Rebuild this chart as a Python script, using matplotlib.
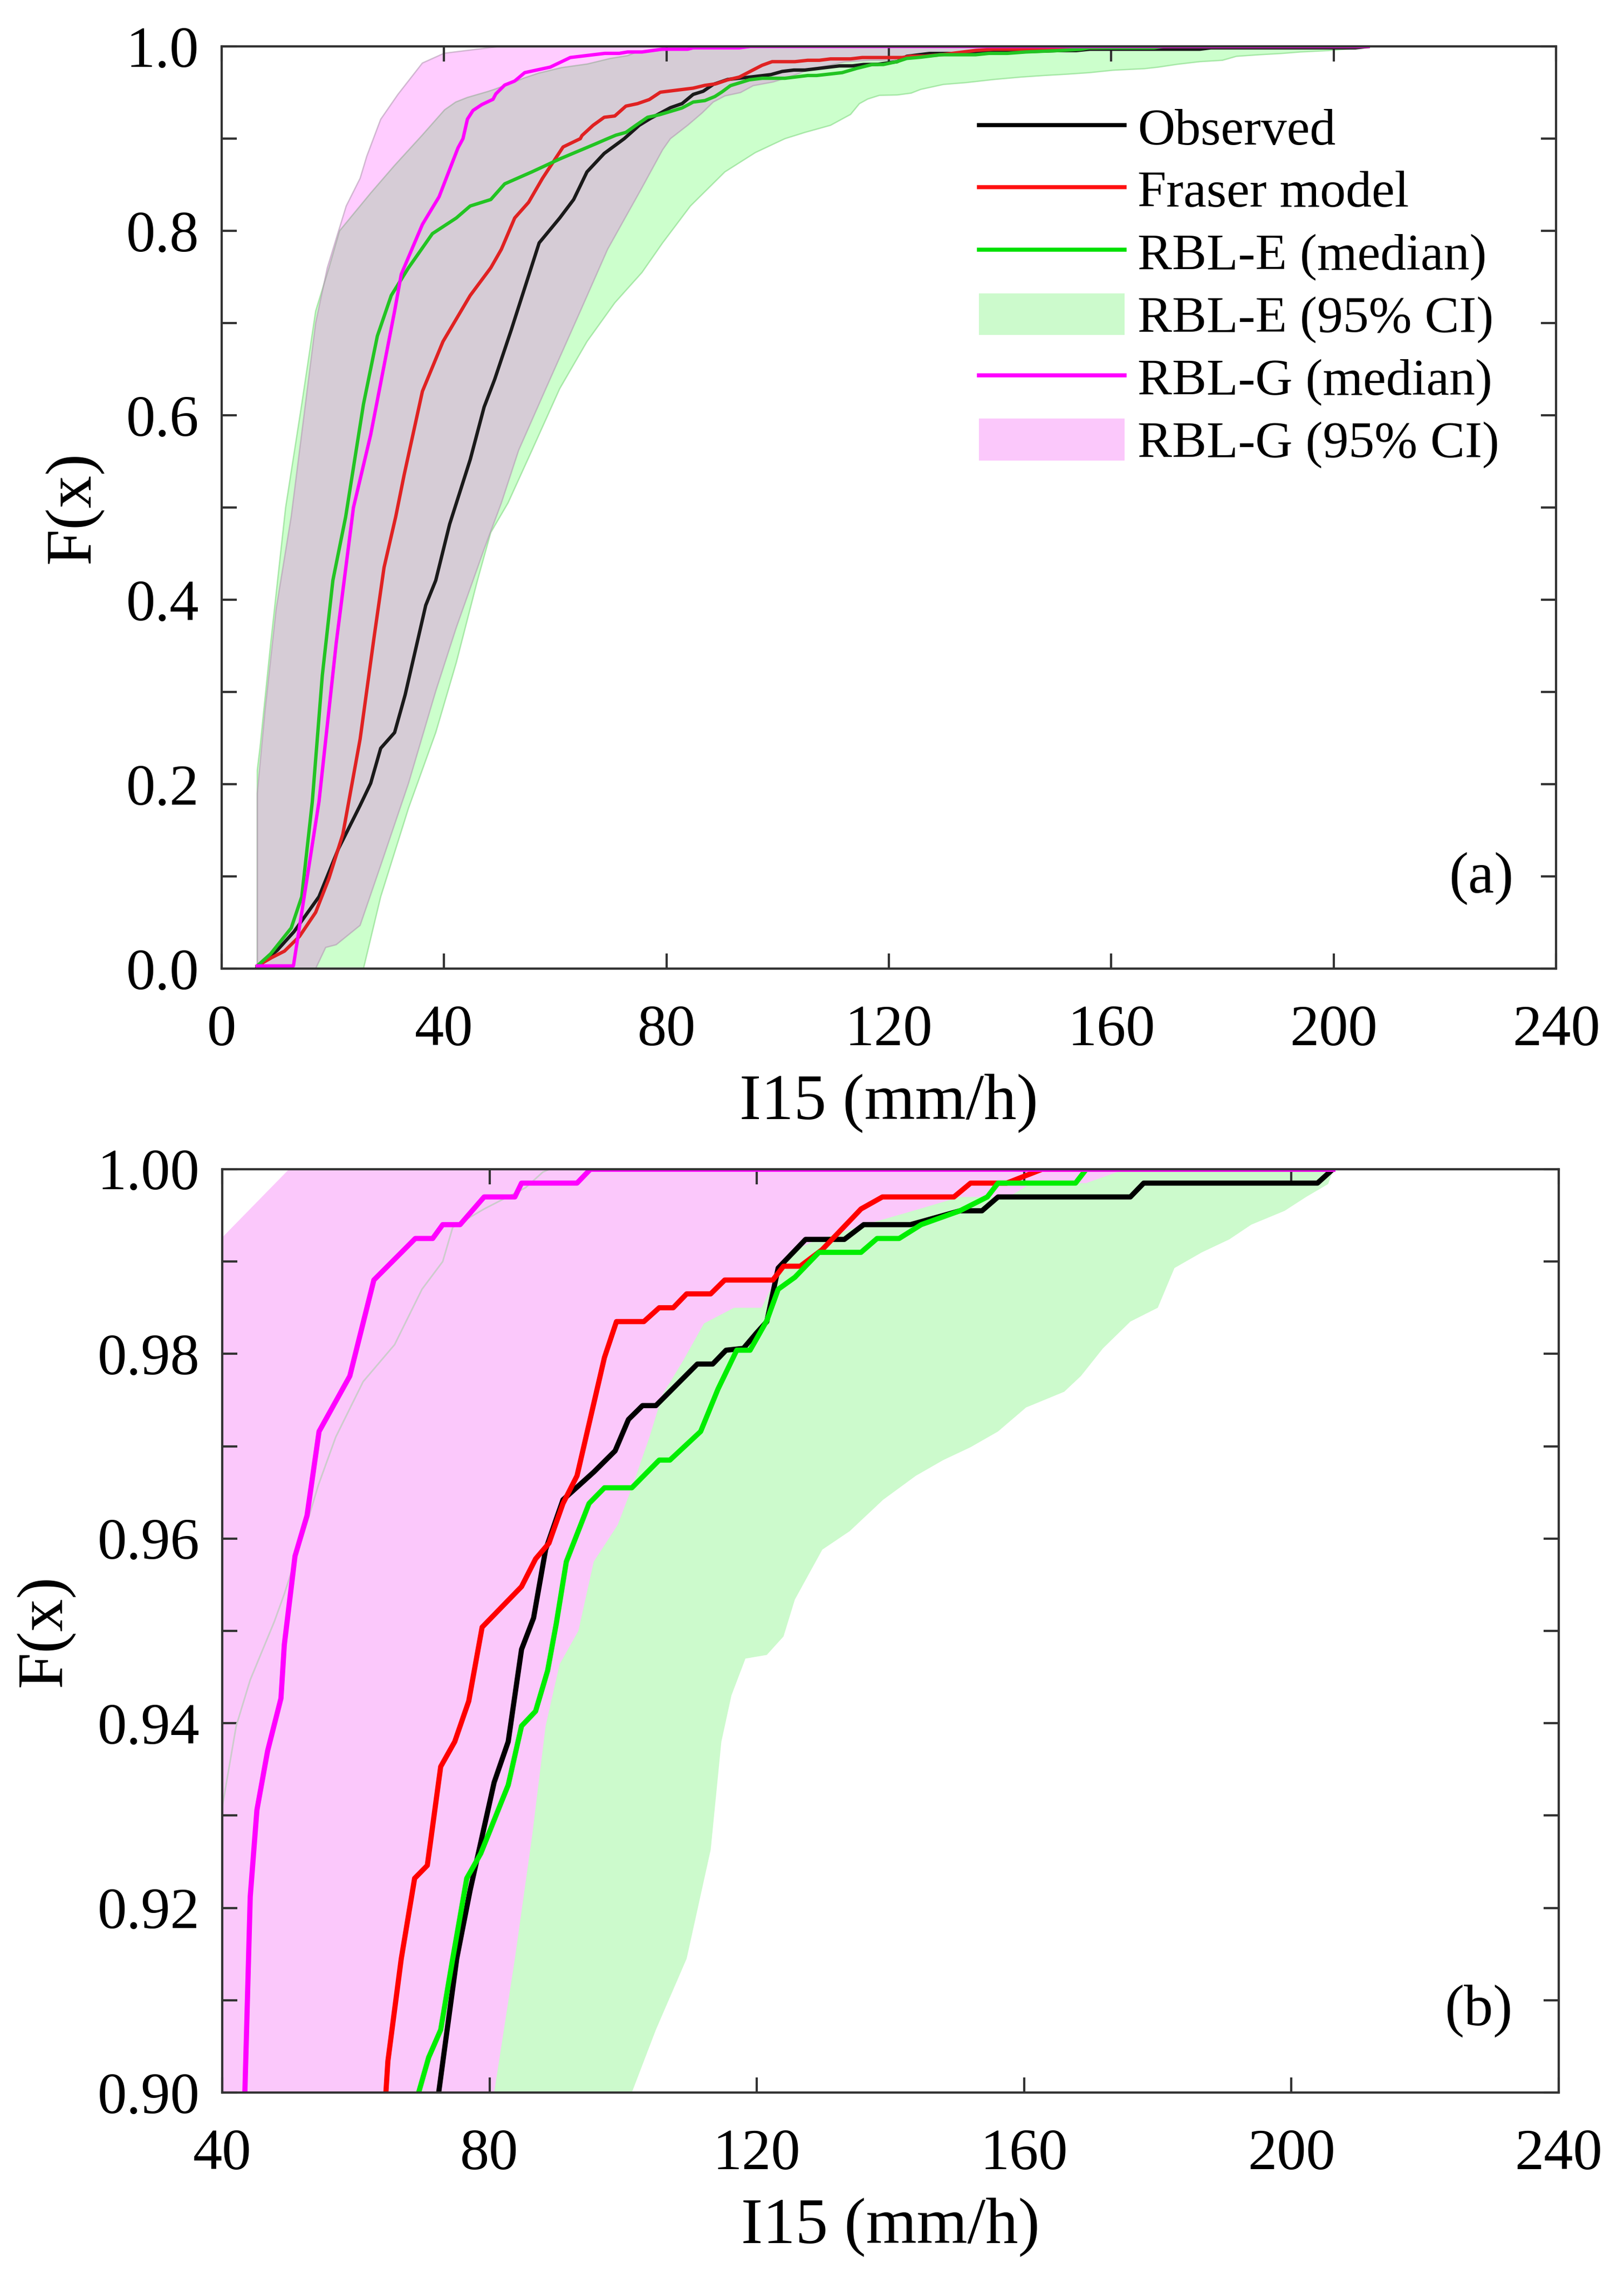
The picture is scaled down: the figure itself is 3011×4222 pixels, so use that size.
import numpy as np
import matplotlib
matplotlib.use('Agg')
import matplotlib.pyplot as plt
from matplotlib.lines import Line2D
from matplotlib.patches import Patch

plt.rcParams['font.family'] = ['Liberation Serif', 'DejaVu Serif']

# (I15, F) points
observed = [(6.4, 0.0015), (10.0, 0.02), (13.0, 0.04), (17.5, 0.078), (21.0, 0.13), (24.9, 0.177),
            (26.8, 0.201), (28.6, 0.239), (31.1, 0.256), (33.0, 0.297), (36.7, 0.394), (38.5, 0.421),
            (41.0, 0.482), (44.7, 0.552), (47.2, 0.609), (49.1, 0.639), (52.1, 0.693), (57.1, 0.787),
            (60.8, 0.814), (63.3, 0.834), (65.7, 0.864), (68.8, 0.884), (72.4, 0.900), (75.1, 0.9145),
            (77.1, 0.9219), (80.7, 0.9336), (82.8, 0.938), (84.8, 0.948), (86.6, 0.9514), (88.4, 0.9588),
            (91.0, 0.9642), (95.6, 0.9672), (98.8, 0.9695), (100.8, 0.9729), (102.9, 0.9744), (104.9, 0.9744),
            (111.1, 0.9789), (113.4, 0.9789), (115.4, 0.9804), (118.0, 0.9806), (120.0, 0.9823),
            (121.5, 0.9835), (123.2, 0.9893), (127.3, 0.9924), (133.1, 0.9924), (136.0, 0.994),
            (143.0, 0.994), (150.4, 0.9955), (153.7, 0.9955), (156.1, 0.997), (175.9, 0.997),
            (177.9, 0.9985), (203.9, 0.9985), (206.2, 1.0)]

fraser = [(6.4, 0.003), (9.0, 0.012), (11.3, 0.019), (14.0, 0.035), (16.9, 0.061), (19.3, 0.098),
          (21.8, 0.146), (24.9, 0.249), (27.4, 0.359), (29.2, 0.435), (31.3, 0.49), (32.8, 0.535),
          (36.1, 0.626), (39.8, 0.68), (44.7, 0.73), (48.4, 0.76), (50.3, 0.78), (52.7, 0.814),
          (55.2, 0.831), (57.7, 0.857), (61.4, 0.891), (64.5, 0.900), (64.8, 0.9034), (66.8, 0.9145),
          (68.8, 0.9232), (70.7, 0.9246), (72.7, 0.9353), (74.8, 0.938), (76.9, 0.9424), (78.9, 0.9504),
          (84.8, 0.9548), (86.9, 0.9578), (88.9, 0.9595), (91.0, 0.9638), (93.1, 0.9668), (97.2, 0.9796),
          (99.0, 0.9835), (103.1, 0.9835), (105.4, 0.985), (107.5, 0.985), (109.5, 0.9865),
          (113.1, 0.9865), (115.2, 0.988), (122.4, 0.988), (124.0, 0.9895), (126.5, 0.9895),
          (129.8, 0.9913), (135.6, 0.9957), (138.8, 0.997), (149.5, 0.997), (152.0, 0.9985),
          (157.4, 0.9985), (162.7, 1.0), (206.2, 1.0)]

rble_median = [(6.4, 0.003), (8.8, 0.016), (12.5, 0.044), (14.4, 0.078), (16.3, 0.181), (18.1, 0.318),
               (20.0, 0.421), (22.3, 0.49), (25.5, 0.612), (28.0, 0.686), (30.5, 0.730), (33.6, 0.760),
               (37.9, 0.797), (42.2, 0.814), (44.7, 0.827), (48.4, 0.834), (50.9, 0.851), (55.8, 0.864),
               (60.8, 0.878), (67.1, 0.894), (69.4, 0.900), (70.9, 0.9038), (72.7, 0.9068), (74.5, 0.9145),
               (76.6, 0.9232), (78.7, 0.9259), (82.8, 0.9333), (84.8, 0.9397), (86.9, 0.9413),
               (88.7, 0.9457), (90.0, 0.9508), (91.5, 0.9575), (94.9, 0.9638), (97.2, 0.9655),
               (101.3, 0.9655), (105.4, 0.9685), (107.0, 0.9685), (111.6, 0.9716), (114.2, 0.9762),
               (117.0, 0.9804), (119.0, 0.9804), (121.5, 0.9836), (123.2, 0.987), (125.7, 0.9883),
               (129.3, 0.991), (135.6, 0.991), (138.0, 0.9925), (141.3, 0.9925), (144.6, 0.994),
               (150.4, 0.9955), (154.5, 0.997), (156.1, 0.9985), (167.7, 0.9985), (169.3, 1.0), (206.2, 1.0)]

rblg_median = [(6.4, 0.003), (12.9, 0.003), (17.5, 0.181), (20.6, 0.353), (23.7, 0.50), (26.8, 0.579),
               (31.1, 0.713), (32.3, 0.753), (36.1, 0.807), (39.1, 0.837), (42.5, 0.890), (43.4, 0.900),
               (44.2, 0.9212), (45.2, 0.9306), (46.8, 0.937), (48.8, 0.9427), (49.3, 0.9485),
               (50.9, 0.9581), (52.7, 0.9625), (54.5, 0.9716), (59.1, 0.9776), (62.7, 0.988),
               (68.9, 0.9925), (71.5, 0.9925), (73.0, 0.994), (75.6, 0.994), (79.2, 0.997), (83.8, 0.997),
               (84.8, 0.9985), (93.1, 0.9985), (95.1, 1.0), (206.2, 1.0)]

rble_ci_upper = [(6.4, 0.215), (6.9, 0.24), (8.8, 0.352), (11.5, 0.50), (14.4, 0.612), (16.9, 0.713),
                 (19.3, 0.76), (21.2, 0.80), (26.8, 0.841), (31.1, 0.871), (36.1, 0.904), (40.1, 0.9313),
                 (42.1, 0.9397), (44.2, 0.9447), (47.8, 0.951), (49.3, 0.954), (52.4, 0.961),
                 (54.4, 0.9658), (57.0, 0.971), (61.1, 0.977), (65.8, 0.981), (69.9, 0.987), (73.0, 0.990),
                 (74.5, 0.9937), (79.2, 0.9957), (85.4, 0.998), (88.0, 0.9997), (89.0, 1.0), (206.2, 1.0)]

rble_ci_lower = [(6.4, 0.0), (25.5, 0.0), (28.6, 0.078), (33.6, 0.174), (38.5, 0.256), (42.2, 0.332),
                 (46.0, 0.421), (48.4, 0.473), (51.5, 0.505), (55.8, 0.562), (60.8, 0.629), (65.7, 0.680),
                 (70.7, 0.722), (75.6, 0.755), (79.3, 0.787), (84.3, 0.827), (90.5, 0.864), (96.0, 0.885),
                 (101.3, 0.900), (104.9, 0.9068), (109.5, 0.9145), (113.1, 0.9263), (114.7, 0.938),
                 (116.2, 0.943), (118.3, 0.947), (121.5, 0.9474), (124.0, 0.9494), (125.7, 0.9534),
                 (129.8, 0.9588), (133.9, 0.9608), (138.9, 0.9642), (143.8, 0.9668), (147.9, 0.9685),
                 (152.0, 0.9699), (156.1, 0.9716), (160.3, 0.9742), (166.0, 0.9759), (168.5, 0.9776),
                 (171.8, 0.9806), (175.9, 0.9835), (180.0, 0.985), (182.5, 0.9893), (186.6, 0.991),
                 (190.7, 0.9924), (194.0, 0.994), (199.0, 0.9955), (202.2, 0.997), (205.5, 0.9984),
                 (206.3, 1.0)]

rblg_ci_upper = [(6.4, 0.19), (7.8, 0.28), (9.8, 0.39), (12.5, 0.49), (14.6, 0.59), (16.9, 0.70),
                 (19.0, 0.76), (22.4, 0.827), (24.9, 0.857), (26.1, 0.881), (28.6, 0.921), (31.7, 0.948),
                 (36.1, 0.982), (40.0, 0.9926), (50.0, 1.0), (206.2, 1.0)]

rblg_ci_lower = [(6.4, 0.0), (16.9, 0.0), (18.7, 0.023), (20.6, 0.026), (24.9, 0.047), (28.6, 0.112),
                 (33.6, 0.201), (38.5, 0.301), (42.2, 0.37), (47.2, 0.455), (50.3, 0.505), (53.4, 0.562),
                 (58.3, 0.629), (64.5, 0.713), (69.4, 0.78), (75.6, 0.847), (79.3, 0.888), (80.7, 0.900),
                 (83.8, 0.9145), (86.4, 0.9279), (88.4, 0.9397), (90.5, 0.9464), (93.3, 0.950),
                 (95.6, 0.9575), (99.2, 0.9615), (101.3, 0.9655), (103.9, 0.9709), (105.9, 0.9756),
                 (109.0, 0.9793), (112.1, 0.9833), (116.6, 0.985), (120.7, 0.985), (124.8, 0.991),
                 (128.9, 0.9923), (136.2, 0.994), (143.4, 0.9955), (150.4, 0.997), (157.7, 0.997),
                 (161.1, 0.9985), (169.3, 0.9985), (175.1, 1.0), (206.2, 1.0)]

labels = ['Observed', 'Fraser model', 'RBL-E (median)', 'RBL-E (95% CI)', 'RBL-G (median)', 'RBL-G (95% CI)']


def xy(pts):
    a = np.array(pts)
    return a[:, 0], a[:, 1]


def band(ax, upper, lower, **kw):
    xu, fu = xy(upper)
    xl, fl = xy(lower)
    ax.fill(np.concatenate([xu, xl[::-1]]), np.concatenate([fu, fl[::-1]]), **kw)


def style_axes(ax, xticks, yticks, fmt):
    ax.set_xticks(xticks)
    ax.set_yticks(yticks)
    ax.set_yticklabels([fmt.format(v) if i % 2 == 0 else '' for i, v in enumerate(yticks)])
    ax.tick_params(direction='in', length=6.7, width=1.0, top=True, right=True,
                   labelsize=26, pad=10, color='0.2')
    ax.tick_params(axis='x', pad=16)
    for s in ax.spines.values():
        s.set_linewidth(1.0)
        s.set_color('0.2')
    ax.set_xlabel('I15 (mm/h)', fontsize=29, labelpad=7)
    ax.set_ylabel('F(x)', fontsize=29, labelpad=10)


fig = plt.figure(figsize=(3011 / 300, 4222 / 300), dpi=300)
ax1 = fig.add_axes([0.1365, 0.5746, 0.8217, 0.4050])
ax2 = fig.add_axes([0.1368, 0.0810, 0.8230, 0.4055])

# panel (a): transparent bands, pink over green
band(ax1, rble_ci_upper, rble_ci_lower, facecolor=(0, 1, 0, 0.2), edgecolor=(0.5, 0.85, 0.5, 0.6), linewidth=0.6)
band(ax1, rblg_ci_upper, rblg_ci_lower, facecolor=(1, 0, 1, 0.2), edgecolor=(0.7, 0.6, 0.7, 0.6), linewidth=0.6)
lw1 = 1.5
ax1.plot(*xy(observed), color='#1a1a1a', lw=lw1)
ax1.plot(*xy(fraser), color='#e02222', lw=lw1)
ax1.plot(*xy(rble_median), color='#22c422', lw=lw1)
ax1.plot(*xy(rblg_median), color='#ff00ff', lw=lw1)
ax1.set_xlim(0, 240)
ax1.set_ylim(0, 1)
style_axes(ax1, np.arange(0, 241, 40), np.round(np.arange(0, 1.0001, 0.1), 2), '{:.1f}')
ax1.text(0.944, 0.098, '(a)', transform=ax1.transAxes, fontsize=26, ha='center', va='center')

handles = [Line2D([], [], color='black', lw=1.8),
           Line2D([], [], color='#ff1010', lw=1.8),
           Line2D([], [], color='#00e000', lw=1.8),
           Patch(facecolor='#ccfacc', edgecolor='none'),
           Line2D([], [], color='#ff00ff', lw=1.8),
           Patch(facecolor='#fbc8fb', edgecolor='none')]
ax1.legend(handles, labels, loc='upper left', bbox_to_anchor=(0.5675, 0.936), frameon=False,
           borderpad=0, borderaxespad=0, handlelength=2.82, handletextpad=0.25,
           handleheight=0.87, labelspacing=0.25, fontsize=23)

# panel (b): zoom on the upper tail, opaque bands
band(ax2, rble_ci_upper, rble_ci_lower, facecolor='#ccfacc', edgecolor='none')
band(ax2, rblg_ci_upper, rblg_ci_lower, facecolor='#fbc8fb', edgecolor='none')
ax2.plot(*xy(rble_ci_upper), color='0.8', lw=0.7)
lw2 = 2.3
ax2.plot(*xy(observed), color='black', lw=lw2)
ax2.plot(*xy(fraser), color='#ff0000', lw=lw2)
ax2.plot(*xy(rble_median), color='#00ee00', lw=lw2)
ax2.plot(*xy(rblg_median), color='#ff00ff', lw=lw2)
ax2.set_xlim(40, 240)
ax2.set_ylim(0.9, 1.0)
style_axes(ax2, np.arange(40, 241, 40), np.round(np.arange(0.90, 1.0001, 0.01), 3), '{:.2f}')
ax2.text(0.94, 0.088, '(b)', transform=ax2.transAxes, fontsize=26, ha='center', va='center')

fig.savefig('out.png', dpi=300)
